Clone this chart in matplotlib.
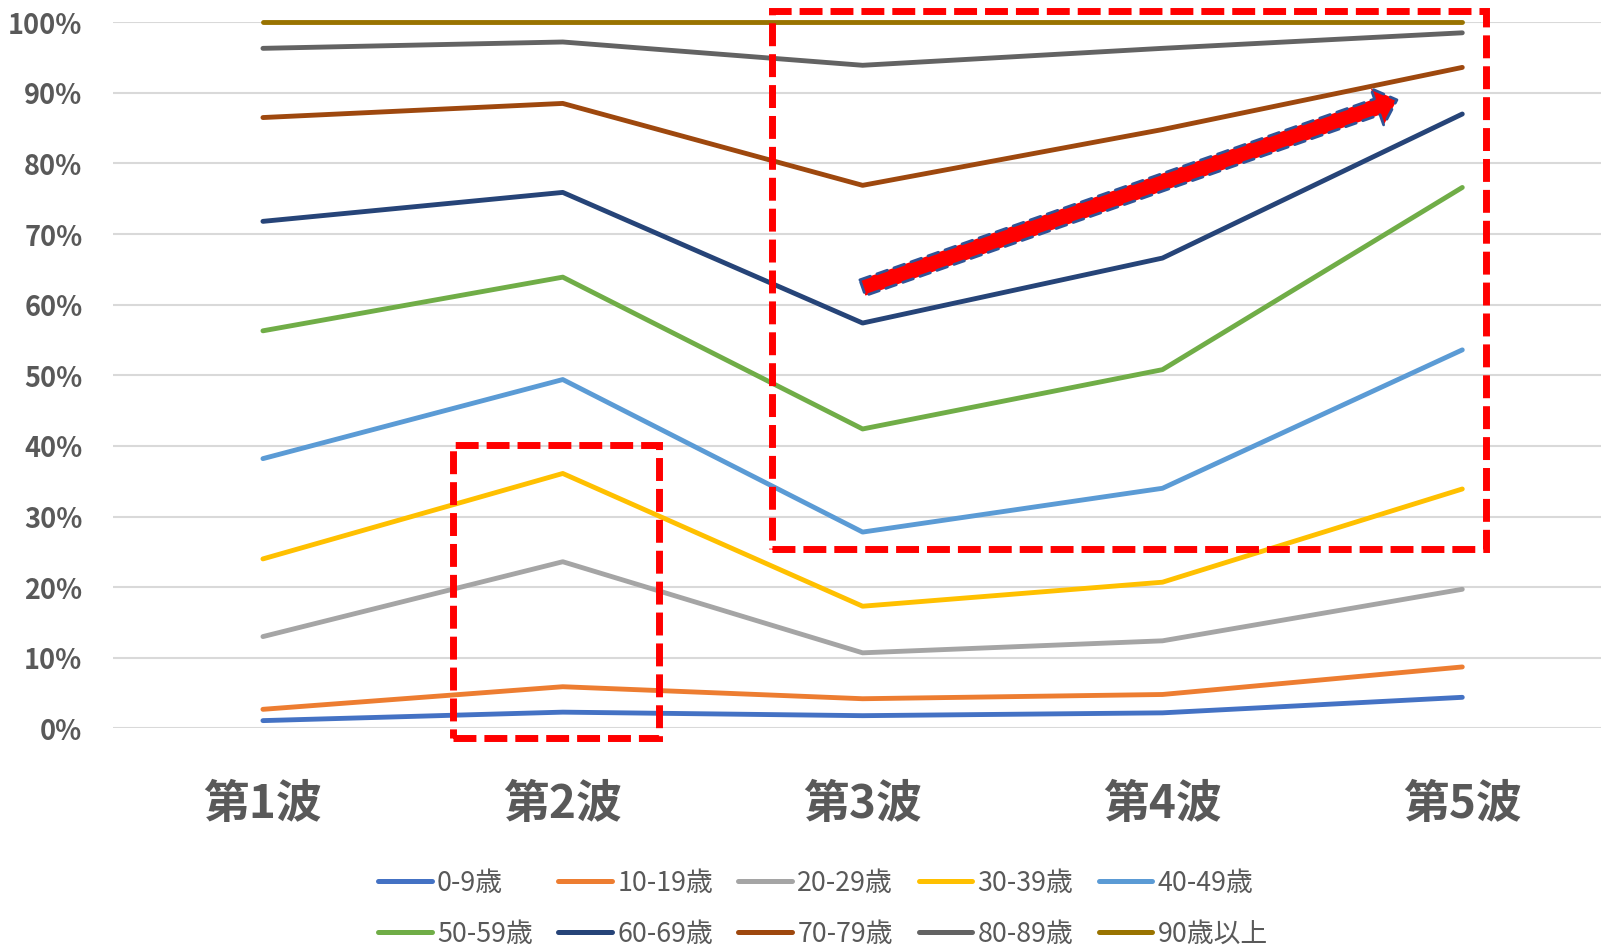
import matplotlib
matplotlib.use("Agg")
import matplotlib.pyplot as plt
from matplotlib.patches import Rectangle, FancyArrowPatch
from matplotlib.ticker import MultipleLocator, FuncFormatter

plt.rcParams["font.family"] = ["Noto Sans CJK JP", "DejaVu Sans"]

# Cumulative share (%) by age band for each wave
waves = ["第1波", "第2波", "第3波", "第4波", "第5波"]
age_labels = ["0-9歳", "10-19歳", "20-29歳", "30-39歳", "40-49歳",
              "50-59歳", "60-69歳", "70-79歳", "80-89歳", "90歳以上"]
age_0_9 = [1.1, 2.3, 1.8, 2.2, 4.4]
age_10_19 = [2.7, 5.9, 4.2, 4.8, 8.7]
age_20_29 = [13.0, 23.6, 10.7, 12.4, 19.7]
age_30_39 = [24.0, 36.1, 17.3, 20.7, 33.9]
age_40_49 = [38.2, 49.4, 27.8, 34.0, 53.6]
age_50_59 = [56.3, 63.9, 42.4, 50.8, 76.6]
age_60_69 = [71.8, 75.9, 57.4, 66.6, 87.0]
age_70_79 = [86.5, 88.5, 76.9, 84.8, 93.6]
age_80_89 = [96.3, 97.2, 93.9, 96.3, 98.5]
age_90_plus = [100.0, 100.0, 100.0, 100.0, 100.0]
series = [age_0_9, age_10_19, age_20_29, age_30_39, age_40_49,
          age_50_59, age_60_69, age_70_79, age_80_89, age_90_plus]
colors = ["#4472C4", "#ED7D31", "#A5A5A5", "#FFC000", "#5B9BD5",
          "#70AD47", "#264478", "#9E480E", "#636363", "#997300"]

W, H = 1601, 945
fig = plt.figure(figsize=(16.012, 9.455), dpi=100)
ax = fig.add_axes([113 / W, 1 - 728.5 / H, 1499 / W, 705.8 / H])

xs = list(range(len(waves)))
lines = []
for vals, lab, col in zip(series, age_labels, colors):
    ln, = ax.plot(xs, vals, color=col, lw=3.5, solid_capstyle="round",
                  label=lab, clip_on=False, zorder=3)
    lines.append(ln)

ax.set_xlim(-0.5, len(waves) - 0.5)
ax.set_ylim(0, 100)
ax.set_xticks(xs)
ax.set_xticklabels(waves)
ax.yaxis.set_major_locator(MultipleLocator(10))
ax.yaxis.set_major_formatter(FuncFormatter(lambda v, _: f"{int(round(v))}%"))
for s in ax.spines.values():
    s.set_visible(False)
ax.yaxis.grid(True, color="#D9D9D9", lw=1.5)
ax.set_axisbelow(True)
ax.tick_params(axis="both", length=0)
ax.tick_params(axis="y", labelsize=19.5, labelcolor="#595959", pad=22)
ax.tick_params(axis="x", labelsize=33, labelcolor="#595959", pad=38)
for t in ax.get_yticklabels() + ax.get_xticklabels():
    t.set_fontweight("bold")

# Highlight boxes
dash = (0, (3.3, 1.15))
ax.add_patch(Rectangle((0.634, -1.4), 0.687, 41.6, fill=False, ec="#FF0000",
                       lw=5, ls=dash, joinstyle="miter", clip_on=False, zorder=5))
ax.add_patch(Rectangle((1.699, 25.4), 2.381, 76.2, fill=False, ec="#FF0000",
                       lw=5, ls=dash, joinstyle="miter", clip_on=False, zorder=5))

# Upward trend arrow
ax.add_patch(FancyArrowPatch((2.0, 62.4), (3.782, 89.0),
                             arrowstyle="simple,head_length=15,head_width=28,tail_width=12",
                             mutation_scale=1, fc="#FF0000", ec="#2F5597", lw=2,
                             ls=(0, (4, 2.5)), shrinkA=0, shrinkB=0,
                             clip_on=False, zorder=6))

# Legend laid out row by row
order = [0, 5, 1, 6, 2, 7, 3, 8, 4, 9]
leg = ax.legend([lines[i] for i in order], [age_labels[i] for i in order],
                ncol=5, loc="center", bbox_to_anchor=(0.514, 0.039),
                bbox_transform=fig.transFigure, frameon=False, fontsize=19.3,
                handlelength=2.0, handletextpad=0.2, columnspacing=0.95,
                labelspacing=0.9)
for t in leg.get_texts():
    t.set_color("#595959")
for h in leg.legend_handles:
    h.set_linewidth(3.6)

fig.savefig("out.png", dpi=100)
